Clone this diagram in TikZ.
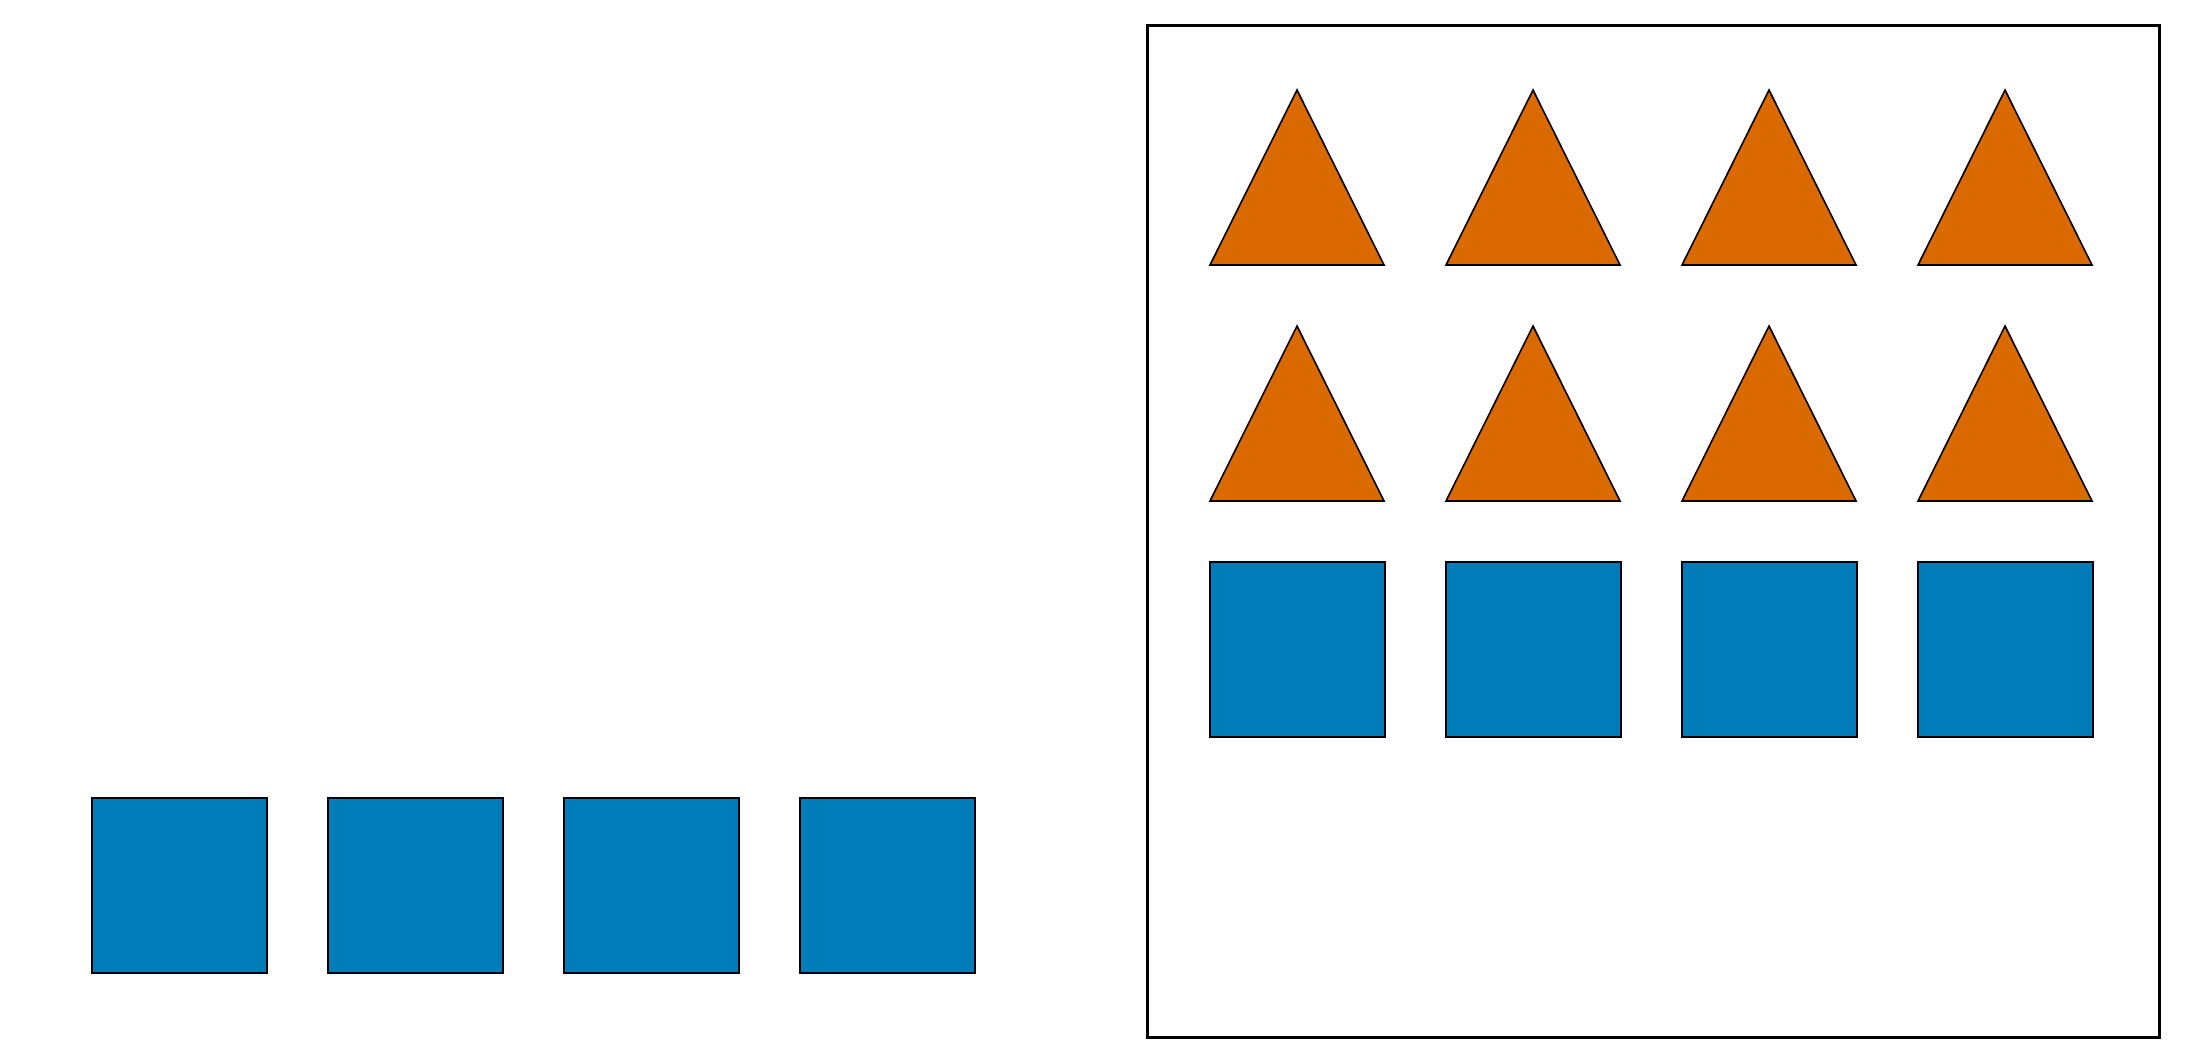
\documentclass[tikz,border=0pt]{standalone}
\definecolor{sqblue}{RGB}{0,124,185}
\definecolor{triorange}{RGB}{218,106,0}
\tikzset{
  sq/.style={fill=sqblue, draw=black, line width=1.6pt},
  tri/.style={fill=triorange, draw=black, line width=1.6pt, line join=miter},
  frame/.style={draw=black, line width=3pt}
}
\begin{document}
\begin{tikzpicture}[x=1pt,y=-1pt]
\useasboundingbox (0,0) rectangle (2186,1063);
% left row of squares
\foreach \i in {0,1,2,3}{
  \draw[sq] ({92+236*\i},798) rectangle ++(175,175);
}
% frame
\draw[frame] (1147,25) rectangle (2159,1037);
% triangles
\foreach \r in {0,1}{
  \foreach \i in {0,1,2,3}{
    \draw[tri] ({1210+236*\i},{265+236*\r}) -- ++(174,0) -- ++(-87,-175) -- cycle;
  }
}
% squares in frame
\foreach \i in {0,1,2,3}{
  \draw[sq] ({1210+236*\i},562) rectangle ++(175,175);
}
\end{tikzpicture}
\end{document}
